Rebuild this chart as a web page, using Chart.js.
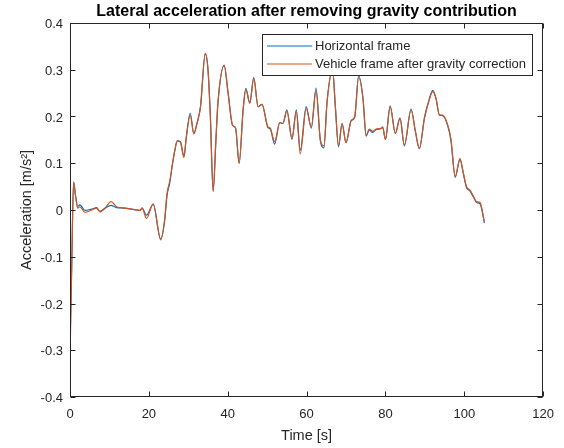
<!DOCTYPE html>
<html>
<head>
<meta charset="utf-8">
<script src="https://cdn.jsdelivr.net/npm/chart.js@4.4.1/dist/chart.umd.min.js"></script>
<style>
  html, body { margin: 0; padding: 0; background: #fff; }
  #wrap { width: 564px; height: 448px; }
</style>
</head>
<body>
<div id="wrap"><canvas id="chart" width="564" height="448"></canvas></div>
<script>
// Data
const timeS = [
  0.0, 0.45, 0.9, 1.4, 1.95, 2.5, 3.8, 5.5, 6.75, 7.6, 8.9, 10.4, 11.8, 13.9, 15.6,
  17.7, 18.3, 19.4, 21.1, 23.0, 24.0, 24.6, 25.3, 26.0, 26.6, 27.2, 28.0, 28.9, 29.5,
  30.5, 31.4, 32.2, 33.1, 34.3, 35.0, 35.6, 36.3, 37.0, 37.5, 39.1, 40.1, 41.2, 42.0,
  42.9, 43.9, 44.6, 45.6, 46.6, 47.7, 48.7, 50.2, 50.8, 51.9, 53.2, 54.0, 55.0, 56.3,
  57.4, 58.4, 59.9, 61.2, 62.4, 63.5, 64.4, 65.2, 66.6, 67.3, 68.1, 69.0, 70.0, 71.3,
  72.2, 73.2, 74.3, 75.1, 75.9, 76.8, 77.6, 78.9, 79.3, 80.0, 81.2, 82.5, 83.7, 84.8,
  86.5, 87.6, 88.6, 89.9, 91.0, 92.0, 92.8, 93.7, 94.5, 95.8, 96.6, 97.7, 98.9, 99.7,
  100.6, 101.4, 102.3, 103.1, 104.0, 105.1
];

const horizontalFrame = [
  -0.295, -0.11, 0.060, 0.032, 0.008, 0.011, -0.001, 0.002, 0.005, -0.003, 0.004, 0.010, 0.005, 0.004, 0.002,
  -0.001, 0.004, -0.011, 0.012, -0.062, -0.024, 0.030, 0.058, 0.098, 0.128, 0.148, 0.146, 0.115, 0.157,
  0.207, 0.163, 0.185, 0.221, 0.334, 0.300, 0.200, 0.040, 0.148, 0.226, 0.309, 0.250, 0.182, 0.175,
  0.100, 0.214, 0.260, 0.229, 0.283, 0.221, 0.226, 0.176, 0.173, 0.141, 0.187, 0.185, 0.214, 0.151,
  0.214, 0.128, 0.221, 0.175, 0.261, 0.148, 0.133, 0.232, 0.299, 0.221, 0.135, 0.185, 0.144, 0.191,
  0.198, 0.287, 0.239, 0.158, 0.171, 0.166, 0.172, 0.174, 0.177, 0.151, 0.223, 0.164, 0.197, 0.137,
  0.216, 0.168, 0.131, 0.198, 0.234, 0.256, 0.240, 0.203, 0.202, 0.180, 0.149, 0.070, 0.109, 0.080,
  0.047, 0.041, 0.028, 0.016, 0.013, -0.028
];

const vehicleFrame = [
  -0.317, -0.12, 0.059, 0.030, 0.004, 0.007, -0.005, 0.000, 0.004, -0.004, 0.004, 0.018, 0.007, 0.004, 0.002,
  -0.001, 0.004, -0.018, 0.013, -0.064, -0.020, 0.035, 0.062, 0.100, 0.128, 0.148, 0.145, 0.112, 0.155,
  0.203, 0.163, 0.185, 0.221, 0.335, 0.300, 0.200, 0.040, 0.150, 0.228, 0.310, 0.250, 0.182, 0.175,
  0.100, 0.214, 0.258, 0.228, 0.282, 0.221, 0.226, 0.178, 0.175, 0.146, 0.187, 0.185, 0.212, 0.153,
  0.210, 0.120, 0.217, 0.177, 0.255, 0.150, 0.137, 0.232, 0.300, 0.221, 0.137, 0.185, 0.144, 0.191,
  0.200, 0.285, 0.239, 0.160, 0.173, 0.168, 0.173, 0.175, 0.178, 0.151, 0.221, 0.164, 0.196, 0.139,
  0.214, 0.168, 0.132, 0.196, 0.232, 0.253, 0.239, 0.203, 0.203, 0.182, 0.153, 0.071, 0.110, 0.082,
  0.049, 0.043, 0.030, 0.018, 0.016, -0.025
];

const seriesLabels = ["Horizontal frame", "Vehicle frame after gravity correction"];
const seriesColors = ["#0072BD", "#D95319"];
const xTickValues = [0, 20, 40, 60, 80, 100, 120];
const yTickValues = [-0.4, -0.3, -0.2, -0.1, 0, 0.1, 0.2, 0.3, 0.4];
const chartTitle = "Lateral acceleration after removing gravity contribution";

const FONT = "'Liberation Sans', Arial, Helvetica, sans-serif";
const INK = "#262626";

const toPoints = (ys) => timeS.map((t, i) => ({ x: t, y: ys[i] }));

// MATLAB style box, inward ticks, title over the axes and the legend
const matlabAxes = {
  id: "matlabAxes",
  afterDraw(chart) {
    const { ctx, chartArea: a, scales } = chart;
    const L = Math.round(a.left) + 0.5, R = Math.round(a.right) - 0.5;
    const T = Math.round(a.top) + 0.5, B = Math.round(a.bottom) - 0.5;
    ctx.save();
    ctx.strokeStyle = INK;
    ctx.lineWidth = 1;
    ctx.strokeRect(L, T, R - L, B - T);
    ctx.beginPath();
    xTickValues.forEach((v) => {
      const px = Math.round(scales.x.getPixelForValue(v)) + 0.5;
      ctx.moveTo(px, B); ctx.lineTo(px, B - 5);
      ctx.moveTo(px, T); ctx.lineTo(px, T + 5);
    });
    yTickValues.forEach((v) => {
      const py = Math.round(scales.y.getPixelForValue(v)) + 0.5;
      ctx.moveTo(L, py); ctx.lineTo(L + 5, py);
      ctx.moveTo(R, py); ctx.lineTo(R - 5, py);
    });
    ctx.stroke();

    // title centred over the axes
    ctx.fillStyle = "#000";
    ctx.font = `bold 16px ${FONT}`;
    ctx.textAlign = "center";
    ctx.textBaseline = "middle";
    ctx.fillText(chartTitle, (a.left + a.right) / 2, 11.5);

    // legend (top right, inside axes)
    const lx = 262.5, ly = 34.5, lw = 270, lh = 41;
    ctx.fillStyle = "#fff";
    ctx.fillRect(lx, ly, lw, lh);
    ctx.strokeStyle = INK;
    ctx.strokeRect(lx, ly, lw, lh);
    ctx.font = `13px ${FONT}`;
    ctx.textAlign = "left";
    chart.data.datasets.forEach((ds, i) => {
      const yy = 46 + i * 18;
      ctx.strokeStyle = ds.borderColor;
      ctx.lineWidth = 1.2;
      ctx.beginPath();
      ctx.moveTo(267, yy); ctx.lineTo(312, yy);
      ctx.stroke();
      ctx.fillStyle = INK;
      ctx.fillText(ds.label, 315, yy + 0.5);
    });
    ctx.restore();
  },
};

new Chart(document.getElementById("chart"), {
  type: "line",
  data: {
    datasets: [
      {
        label: seriesLabels[0],
        data: toPoints(horizontalFrame),
        borderColor: seriesColors[0],
        borderWidth: 1.2,
        pointRadius: 0,
        cubicInterpolationMode: "monotone",
        order: 2,
      },
      {
        label: seriesLabels[1],
        data: toPoints(vehicleFrame),
        borderColor: seriesColors[1],
        borderWidth: 1.2,
        pointRadius: 0,
        cubicInterpolationMode: "monotone",
        order: 1,
      },
    ],
  },
  options: {
    responsive: false,
    animation: false,
    devicePixelRatio: 1,
    layout: { padding: { top: 23, right: 20, bottom: 0, left: 0 } },
    plugins: {
      legend: { display: false },
      tooltip: { enabled: false },
      title: { display: false },
    },
    scales: {
      x: {
        type: "linear",
        min: 0,
        max: 120,
        afterFit: (s) => { s.height = 51; },
        afterBuildTicks: (s) => { s.ticks = xTickValues.map((v) => ({ value: v })); },
        grid: { display: false, drawTicks: false, tickLength: 0 },
        border: { display: false },
        ticks: {
          color: INK,
          padding: 10,
          maxRotation: 0,
          font: { family: FONT, size: 13 },
          callback: (v) => String(v),
        },
        title: {
          display: true,
          text: "Time [s]",
          color: INK,
          font: { family: FONT, size: 14.5 },
          padding: { top: 0, bottom: 3 },
        },
      },
      y: {
        min: -0.4,
        max: 0.4,
        afterFit: (s) => { s.width = 70; },
        afterBuildTicks: (s) => { s.ticks = yTickValues.map((v) => ({ value: v })); },
        grid: { display: false, drawTicks: false, tickLength: 0 },
        border: { display: false },
        ticks: {
          color: INK,
          padding: 7,
          labelOffset: 1.5,
          font: { family: FONT, size: 13 },
          callback: (v) => String(Number(Number(v).toFixed(1))),
        },
        title: {
          display: true,
          text: "Acceleration [m/s²]",
          color: INK,
          font: { family: FONT, size: 14.5 },
          padding: { top: 18, bottom: 0 },
        },
      },
    },
  },
  plugins: [matlabAxes],
});
</script>
</body>
</html>
